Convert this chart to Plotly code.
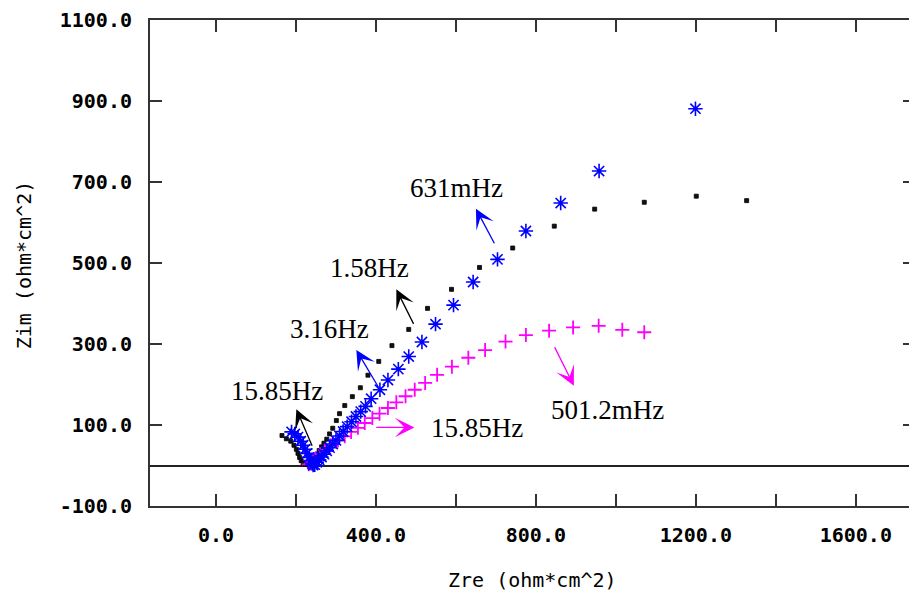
import plotly.graph_objects as go

# ---- data ----
black_x = [165, 176, 187, 195, 201, 205, 209, 213, 218, 224, 230, 236, 240, 244, 248, 253, 258, 264,
           270, 277, 284, 292, 301, 309, 322, 341, 361, 380, 407, 440, 482, 529, 589, 659, 742, 846,
           947, 1071, 1201, 1327]
black_y = [74, 66, 60, 50, 40, 30, 20, 12, 6, 3, 2, 3, 6, 12, 20, 28, 37, 46,
           55, 65, 78, 92, 111, 128, 148, 170, 192, 223, 257, 296, 336, 388, 435, 489, 537, 591,
           633, 650, 665, 654]

blue_x = [189, 197, 205, 212, 218, 223, 228, 233, 237, 241, 243, 247, 252, 258, 264, 270, 277, 284,
          292, 300, 309, 318, 328, 339, 350, 362, 374, 388, 410, 430, 456, 482, 515, 549, 594, 643,
          704, 775, 862, 958, 1199]
blue_y = [83, 78, 70, 60, 50, 40, 30, 20, 12, 5, 1, 2, 8, 14, 21, 28, 36, 44,
          53, 62, 73, 84, 96, 108, 121, 133, 146, 165, 187, 211, 238, 269, 305, 349, 396, 453,
          509, 579, 648, 727, 881]

mag_x = [232, 238, 242, 250, 260, 273, 287, 305, 322, 338, 355, 372, 391, 409, 430, 451, 474, 497,
         523, 553, 590, 631, 673, 724, 775, 833, 893, 957, 1016, 1071]
mag_y = [3, 5, 9, 17, 28, 38, 50, 62, 72, 83, 93, 105, 117, 128, 142, 156, 171, 187,
         204, 224, 244, 266, 285, 306, 322, 333, 341, 345, 335, 329]

x_tick_vals = [0, 200, 400, 600, 800, 1000, 1200, 1400, 1600]
x_tick_text = ["0.0", "", "400.0", "", "800.0", "", "1200.0", "", "1600.0"]
y_tick_vals = [-100, 100, 300, 500, 700, 900, 1100]
y_tick_text = ["-100.0", "100.0", "300.0", "500.0", "700.0", "900.0", "1100.0"]

# frequency labels: text, x, y
label_text = ["15.85Hz", "3.16Hz", "1.58Hz", "631mHz", "501.2mHz", "15.85Hz"]
label_x = [152, 284, 384, 601, 980, 652]
label_y = [185, 338, 487, 684, 138, 92]

# arrows: head (x,y), tail (ax,ay), colour
arrow_x = [201, 351, 451, 650, 895, 496]
arrow_y = [139, 285, 435, 634, 197, 94]
arrow_ax = [242, 409, 496, 698, 845, 397]
arrow_ay = [45, 189, 346, 545, 296, 94]
arrow_col = ["#000000", "#0000ff", "#000000", "#0000ff", "#ff00ff", "#ff00ff"]

BLUE = "#0000ff"
MAGENTA = "#ff00ff"
AXC = "#333333"
MONO = "DejaVu Sans Mono"

# page body has an 8px margin: figure is placed at (8, 8) in the window
W, H = 909, 585
ML, MT = 142, 10
PW, PH = W - ML, 488

fig = go.Figure()
fig.add_trace(go.Scatter(x=black_x, y=black_y, mode="markers",
                         marker=dict(symbol="square", size=4, color="#111111",
                                     line=dict(width=0.8, color="#000000")),
                         showlegend=False))
fig.add_trace(go.Scatter(x=mag_x, y=mag_y, mode="markers",
                         marker=dict(symbol="cross-thin-open", size=10, color=MAGENTA,
                                     line=dict(width=1.8, color=MAGENTA)),
                         showlegend=False))
fig.add_trace(go.Scatter(x=blue_x, y=blue_y, mode="markers",
                         marker=dict(symbol="asterisk-open", size=12, color=BLUE,
                                     line=dict(width=1.6, color=BLUE)),
                         showlegend=False))

annotations = []
for t, x, y in zip(label_text, label_x, label_y):
    annotations.append(dict(x=x, y=y, xref="x", yref="y", text=t, showarrow=False,
                            xanchor="center", yanchor="middle",
                            font=dict(family="Liberation Serif", size=27, color="#000000")))
for x, y, ax, ay, c in zip(arrow_x, arrow_y, arrow_ax, arrow_ay, arrow_col):
    annotations.append(dict(x=x, y=y, ax=ax, ay=ay, xref="x", yref="y", axref="x", ayref="y",
                            text="", showarrow=True, arrowhead=3, arrowsize=2.5,
                            arrowwidth=1.3, arrowcolor=c, standoff=0, startstandoff=0))
# axis titles (positions in window pixels, converted to paper coords)
annotations.append(dict(x=(534 - 8 - ML) / PW, y=(PH + MT - (580 - 8)) / PH, xref="paper", yref="paper",
                        text="Zre (ohm*cm^2)", showarrow=False, xanchor="center", yanchor="middle",
                        font=dict(family=MONO, size=20, color="#000000")))
annotations.append(dict(x=(24 - 8 - ML) / PW, y=(PH + MT - (264 - 8)) / PH, xref="paper", yref="paper",
                        text="Zim (ohm*cm^2)", showarrow=False, xanchor="center", yanchor="middle",
                        textangle=-90,
                        font=dict(family=MONO, size=20, color="#000000")))

fig.update_layout(
    width=W, height=H,
    margin=dict(l=ML, r=0, t=MT, b=H - MT - PH),
    paper_bgcolor="white", plot_bgcolor="white",
    annotations=annotations,
    xaxis=dict(range=[-165, 1748], tickvals=x_tick_vals, ticktext=x_tick_text,
               showgrid=False, zeroline=False, showline=True, linecolor=AXC, linewidth=2,
               mirror="ticks", ticks="inside", ticklen=12, tickwidth=2, tickcolor=AXC,
               ticklabelstandoff=10, ticklabeloverflow="allow",
               tickfont=dict(family=MONO, size=20, color="#000000", weight="bold")),
    yaxis=dict(range=[-100, 1100], tickvals=y_tick_vals, ticktext=y_tick_text,
               showgrid=False, zeroline=True, zerolinecolor="#222222", zerolinewidth=2,
               showline=True, linecolor=AXC, linewidth=2,
               mirror="ticks", ticks="inside", ticklen=12, tickwidth=2, tickcolor=AXC,
               ticklabelstandoff=12, ticklabeloverflow="allow",
               tickfont=dict(family=MONO, size=20, color="#000000", weight="bold")),
)

fig.write_html("out.html")
